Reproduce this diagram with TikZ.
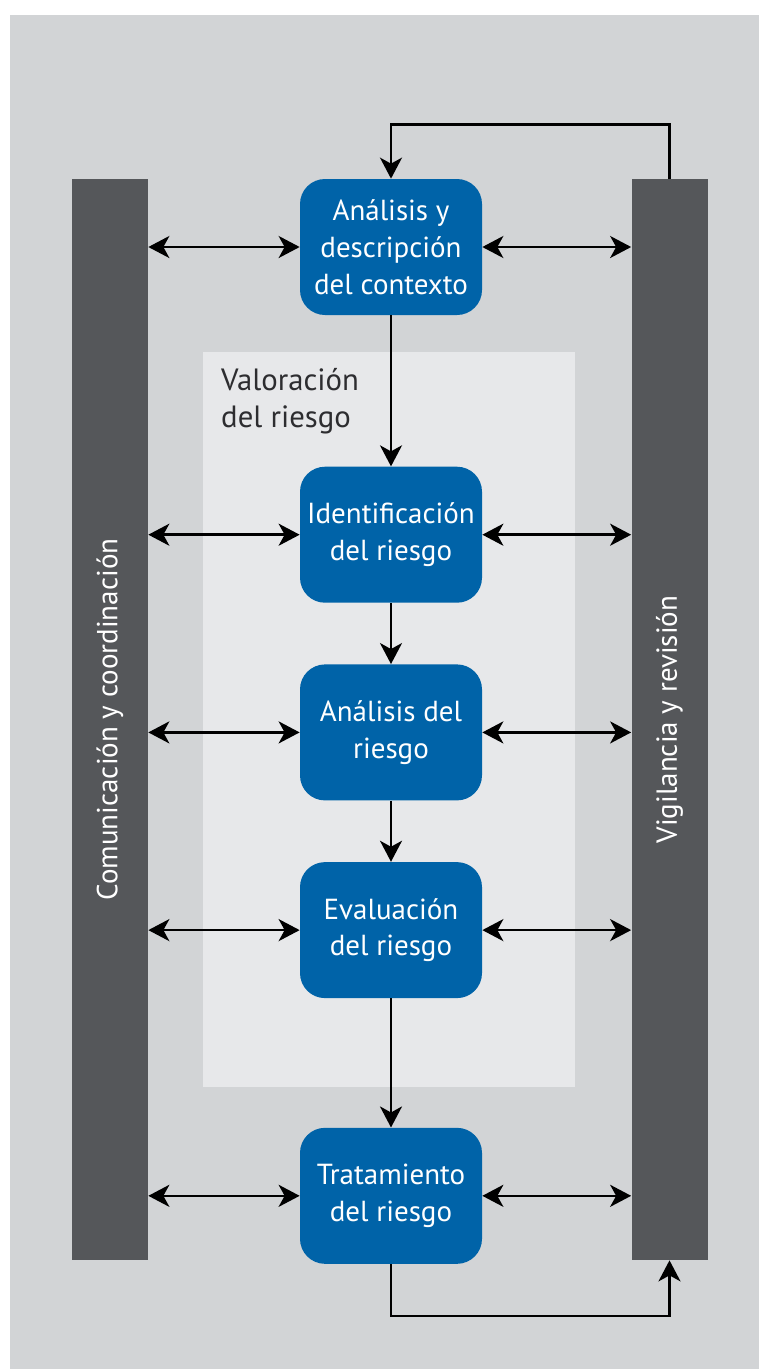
\documentclass[tikz,border=0pt]{standalone}
\usepackage{fontspec}
\setmainfont{PT Sans}
\usetikzlibrary{positioning, arrows.meta}

\definecolor{stageblue}{RGB}{0,99,168}
\definecolor{bargray}{RGB}{85,87,90}
\definecolor{backgray}{RGB}{210,212,214}
\definecolor{panelgray}{RGB}{231,232,234}
\definecolor{labelgray}{RGB}{45,45,48}

\begin{document}
\begin{tikzpicture}[
	stage/.style={rectangle, rounded corners=0.5cm, fill=stageblue, text=white,
		minimum width=3.64cm, minimum height=2.72cm, align=center,
		font=\fontsize{16.5}{21}\selectfont},
	sidebar/.style={rectangle, fill=bargray, text=white, rotate=90,
		minimum width=21.62cm, minimum height=1.52cm,
		font=\fontsize{16.5}{21}\selectfont},
	tip/.style={Stealth[length=0.42cm, width=0.44cm, inset=0.12cm]},
	flow/.style={draw=black, line width=1.4pt, -{Stealth[length=0.42cm, width=0.44cm, inset=0.12cm]}},
	link/.style={flow, {Stealth[length=0.42cm, width=0.44cm, inset=0.12cm]}-{Stealth[length=0.42cm, width=0.44cm, inset=0.12cm]}},
	]
	  \useasboundingbox (0,0) rectangle (15.18,-27.38);
	  \fill[white] (0,0) rectangle (15.18,-27.38);
	  \fill[backgray] (0.2,-0.3) rectangle (15.18,-27.38);

	  \node[rectangle, fill=panelgray, minimum width=7.44cm, minimum height=14.7cm] (val) at (7.78,-14.39) {};
	  \node[anchor=north west, align=left, text=labelgray, font=\fontsize{17.5}{21}\selectfont] (vallabel) at (4.3,-7.25) {Valoración\\del riesgo};

	  \node[sidebar] (com) at (2.2,-14.39) {Comunicación y coordinación};
	  \node[sidebar] (vig) at (13.39,-14.39) {Vigilancia y revisión};

	  \node[stage] (ctx) at (7.82,-4.94) {Análisis y\\descripción\\del contexto};
	  \node[stage, below=3.02cm of ctx] (ident) {Identificación\\del riesgo};
	  \node[stage, below=1.22cm of ident] (anal) {Análisis del\\riesgo};
	  \node[stage, below=1.22cm of anal] (eval) {Evaluación\\del riesgo};
	  \node[stage, below=2.58cm of eval] (treat) {Tratamiento\\del riesgo};

	  \draw[flow] (ctx) -- (ident);
	  \draw[flow] (ident) -- (anal);
	  \draw[flow] (anal) -- (eval);
	  \draw[flow] (eval) -- (treat);

	  \foreach \s in {ctx, ident, anal, eval, treat} {
	    \draw[link] (com.south |- \s.west) -- (\s.west);
	    \draw[link] (\s.east) -- (vig.north |- \s.east);
	  }

	  \draw[flow] (vig.east) -- ++(0,1.08) -| (ctx.north);
	  \draw[flow] (treat.south) -- ++(0,-1.04) -| (vig.west);
\end{tikzpicture}
\end{document}
